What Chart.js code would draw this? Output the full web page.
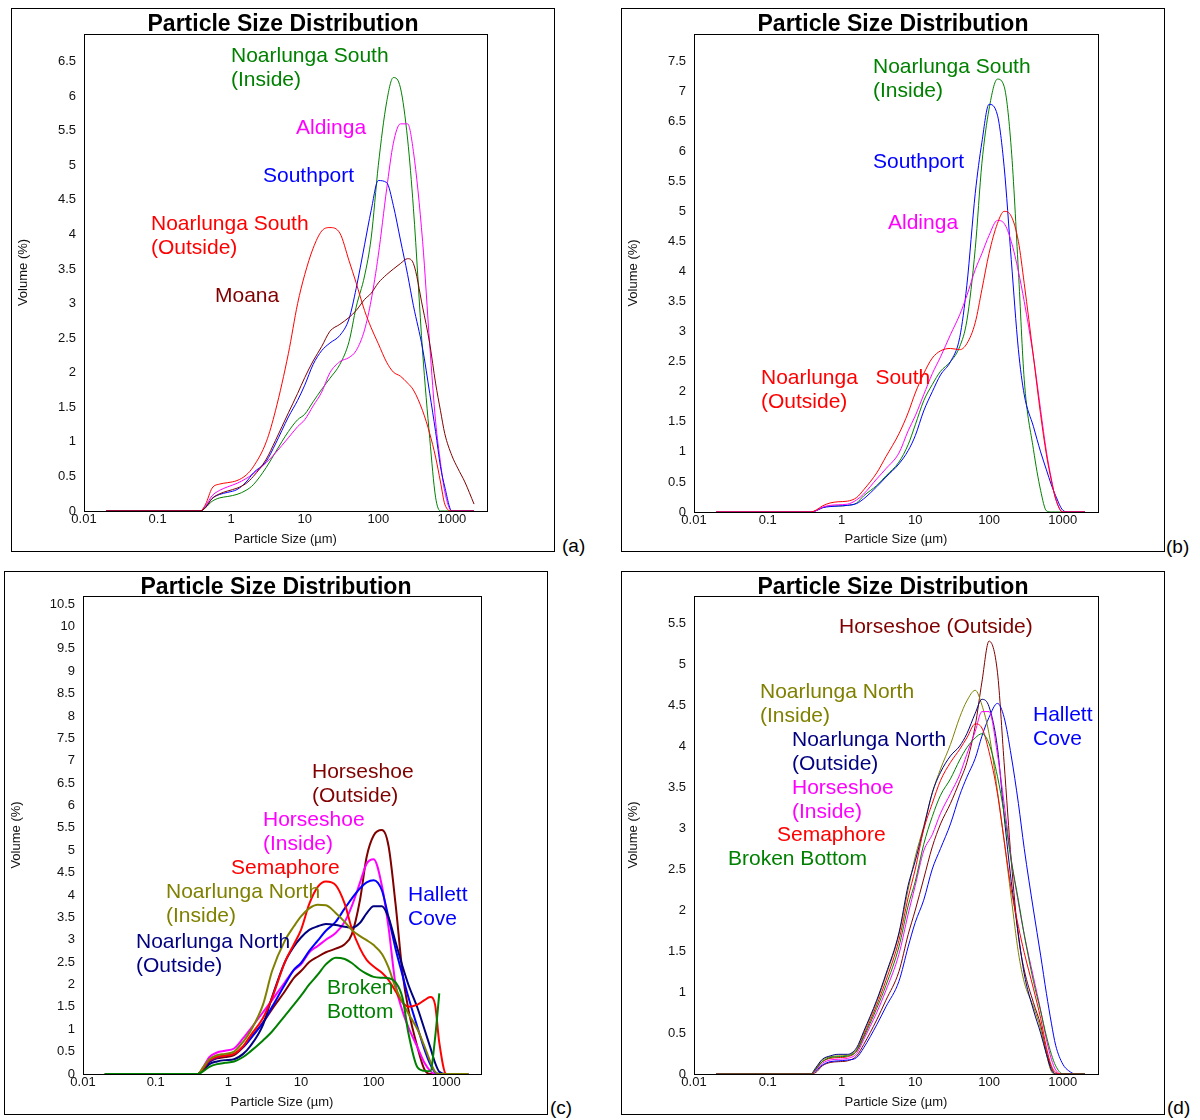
<!DOCTYPE html>
<html>
<head>
<meta charset="utf-8">
<script src="https://cdn.jsdelivr.net/npm/chart.js@4.4.1/dist/chart.umd.min.js"></script>
<style>
  body { margin: 0; background: #fff; width: 1200px; height: 1120px; position: relative; font-family: "Liberation Sans", Arial, sans-serif; }
  .panel { position: absolute; border: 1px solid #000; width: 542px; height: 542px; }
  .panel canvas { display: block; }
  .tag { position: absolute; font-size: 19px; line-height: 20px; color: #000; }
</style>
</head>
<body>
<div class="panel" style="left:11px;top:8px"><canvas id="chartA" width="542" height="542"></canvas></div>
<div class="panel" style="left:621px;top:8px"><canvas id="chartB" width="542" height="542"></canvas></div>
<div class="panel" style="left:4px;top:571px"><canvas id="chartC" width="542" height="542"></canvas></div>
<div class="panel" style="left:621px;top:571px"><canvas id="chartD" width="542" height="542"></canvas></div>
<div class="tag" style="left:562px;top:536px">(a)</div>
<div class="tag" style="left:1166px;top:537px">(b)</div>
<div class="tag" style="left:550px;top:1098px">(c)</div>
<div class="tag" style="left:1167px;top:1098px">(d)</div>
<script>
// particle sizes (µm) where the curves were read
const sizes = [0.02, 0.38, 0.45, 0.55, 0.7, 0.9, 1.2, 1.6, 2, 3, 4, 6, 8, 10, 13, 17, 22, 30, 40, 50,
  65, 80, 100, 130, 160, 200, 250, 300, 400, 500, 600, 700, 800, 1000, 1200, 1500, 2000];
const xTickValues = [0.01, 0.1, 1, 10, 100, 1000];
const yTicksA = [0, 0.5, 1, 1.5, 2, 2.5, 3, 3.5, 4, 4.5, 5, 5.5, 6, 6.5];
const yTicksB = [0, 0.5, 1, 1.5, 2, 2.5, 3, 3.5, 4, 4.5, 5, 5.5, 6, 6.5, 7, 7.5];
const yTicksC = [0, 0.5, 1, 1.5, 2, 2.5, 3, 3.5, 4, 4.5, 5, 5.5, 6, 6.5, 7, 7.5, 8, 8.5, 9, 9.5, 10, 10.5];
const yTicksD = [0, 0.5, 1, 1.5, 2, 2.5, 3, 3.5, 4, 4.5, 5, 5.5];

// (a)
const aNoarlungaSouthInside = [0,0,0.05,0.14,0.19,0.21,0.24,0.3,0.38,0.63,0.85,1.15,1.32,1.4,1.58,1.76,1.92,2.12,2.45,2.95,3.4,3.95,5.0,5.92,6.27,6.12,5.38,4.38,2.3,1.05,0.2,0,0,0,0,0,0];
const aAldinga = [0,0,0.08,0.22,0.3,0.35,0.4,0.47,0.54,0.7,0.84,1.06,1.22,1.32,1.52,1.72,2.0,2.16,2.22,2.32,2.62,3.05,3.7,4.66,5.32,5.6,5.6,5.2,3.9,2.4,1.3,0.7,0.28,0,0,0,0];
const aSouthport = [0,0,0.06,0.18,0.24,0.27,0.31,0.42,0.55,0.72,0.97,1.36,1.6,1.82,2.12,2.32,2.43,2.54,2.78,3.22,3.85,4.35,4.78,4.75,4.42,3.92,3.42,2.97,2.35,1.7,1.15,0.64,0.35,0,0,0,0];
const aNoarlungaSouthOutside = [0,0,0.1,0.33,0.39,0.41,0.44,0.52,0.64,1.0,1.45,2.28,3.0,3.42,3.8,4.05,4.1,4.02,3.62,3.3,2.9,2.65,2.42,2.15,2.01,1.95,1.85,1.75,1.45,1.12,0.78,0.42,0.1,0,0,0,0];
const aMoana = [0,0,0.05,0.18,0.25,0.29,0.33,0.4,0.5,0.75,1.02,1.42,1.7,1.93,2.17,2.38,2.6,2.7,2.8,2.9,3.06,3.15,3.3,3.42,3.5,3.58,3.65,3.58,2.95,2.42,1.85,1.45,1.12,0.8,0.62,0.42,0.1];

// (b)
const bNoarlungaSouthInside = [0,0,0.02,0.07,0.1,0.1,0.11,0.15,0.27,0.44,0.6,0.83,1.12,1.45,1.85,2.12,2.34,2.5,2.75,3.18,4.38,5.8,6.7,7.2,7.08,6.05,4.01,2.2,1.04,0.36,0.02,0,0,0,0,0,0];
const bSouthport = [0,0,0.02,0.07,0.09,0.1,0.11,0.14,0.22,0.42,0.58,0.8,1.02,1.27,1.68,2.0,2.28,2.5,2.9,3.77,5.3,6.15,6.78,6.6,5.75,4.2,2.7,1.95,1.42,1.0,0.7,0.45,0.27,0.03,0,0,0];
const bAldinga = [0,0,0.02,0.08,0.11,0.12,0.13,0.2,0.3,0.55,0.72,0.98,1.35,1.6,1.95,2.3,2.58,2.95,3.28,3.6,4.03,4.3,4.6,4.85,4.8,4.5,4.0,3.5,2.58,1.7,1.0,0.55,0.22,0,0,0,0];
const bNoarlungaSouthOutside = [0,0,0.03,0.1,0.15,0.17,0.18,0.24,0.37,0.65,0.92,1.3,1.65,1.98,2.3,2.56,2.68,2.72,2.7,2.8,3.15,3.7,4.3,4.8,5.0,4.92,4.5,3.8,2.58,1.62,0.95,0.52,0.22,0,0,0,0];

// (c)
const cHorseshoeOutside = [0,0,0.1,0.27,0.35,0.38,0.42,0.6,0.8,1.15,1.45,1.85,2.15,2.3,2.5,2.62,2.72,2.8,2.9,3.12,3.9,4.85,5.33,5.45,5.1,3.8,2.25,1.45,0.6,0.1,0,0,0,0,0,0,0];
const cHorseshoeInside = [0,0,0.15,0.38,0.48,0.52,0.57,0.8,1.0,1.38,1.65,2.05,2.32,2.45,2.72,2.86,3.0,3.15,3.4,3.75,4.28,4.7,4.8,4.2,3.28,2.0,1.4,1.05,0.6,0.25,0.07,0,0,0,0,0,0];
const cSemaphore = [0,0,0.12,0.3,0.38,0.41,0.45,0.62,0.85,1.25,1.7,2.5,2.9,3.22,3.8,4.18,4.3,4.22,3.8,3.25,2.8,2.55,2.4,2.26,2.1,1.85,1.6,1.5,1.55,1.65,1.72,1.55,0.7,0,0,0,0];
const cNoarlungaNorthInside = [0,0,0.15,0.33,0.42,0.45,0.5,0.72,0.95,1.55,2.3,2.98,3.3,3.52,3.7,3.78,3.77,3.6,3.4,3.22,3.08,2.99,2.88,2.68,2.38,1.93,1.6,1.35,1.0,0.62,0.28,0.05,0,0,0,0,0];
const cNoarlungaNorthOutside = [0,0,0.08,0.22,0.28,0.31,0.33,0.45,0.62,1.1,1.72,2.5,2.85,3.05,3.22,3.3,3.35,3.33,3.29,3.27,3.38,3.59,3.75,3.75,3.5,2.95,2.4,2.0,1.48,1.0,0.6,0.25,0.05,0,0,0,0];
const cHallettCove = [0,0,0.1,0.28,0.37,0.41,0.45,0.6,0.78,1.15,1.5,2.0,2.33,2.48,2.75,2.98,3.2,3.4,3.7,3.92,4.15,4.28,4.33,4.1,3.5,2.8,2.2,1.72,1.05,0.55,0.22,0.04,0,0,0,0,0];
const cBrokenBottom = [0,0,0.06,0.16,0.22,0.25,0.28,0.38,0.5,0.75,0.95,1.3,1.55,1.75,2.0,2.22,2.45,2.6,2.57,2.48,2.33,2.24,2.17,2.15,2.14,2.05,1.7,0.92,0.15,0.07,0.06,0.8,1.8,null,null,null,null];

// (d)
const dHorseshoeOutside = [0,0,0.02,0.1,0.14,0.15,0.16,0.22,0.36,0.66,0.9,1.25,1.7,2.0,2.38,2.77,3.05,3.3,3.57,3.8,4.25,4.78,5.28,4.9,3.8,2.6,1.68,1.27,0.87,0.6,0.27,0.08,0,0,0,0,0];
const dNoarlungaNorthInside = [0,0,0.07,0.17,0.21,0.22,0.23,0.3,0.5,0.88,1.2,1.7,2.25,2.65,3.02,3.43,3.72,4.02,4.35,4.55,4.68,4.5,4.15,3.45,2.85,2.15,1.48,1.12,0.82,0.55,0.24,0.03,0,0,0,0,0];
const dNoarlungaNorthOutside = [0,0,0.08,0.18,0.22,0.24,0.24,0.32,0.52,0.9,1.22,1.72,2.3,2.6,3.0,3.43,3.68,3.88,4.0,4.15,4.4,4.57,4.48,3.98,3.15,2.35,1.7,1.22,0.78,0.5,0.24,0.05,0,0,0,0,0];
const dHorseshoeInside = [0,0,0.05,0.13,0.17,0.18,0.19,0.25,0.42,0.75,1.02,1.46,1.95,2.3,2.72,2.92,3.18,3.42,3.65,3.9,4.18,4.42,4.42,3.9,3.3,2.62,2.09,1.7,1.18,0.78,0.42,0.18,0.05,0,0,0,0];
const dSemaphore = [0,0,0.06,0.15,0.19,0.2,0.21,0.28,0.47,0.84,1.14,1.63,2.15,2.5,2.98,3.3,3.58,3.8,3.96,4.1,4.27,4.22,3.93,3.42,2.85,2.25,1.8,1.48,1.04,0.68,0.32,0.1,0.02,0,0,0,0];
const dBrokenBottom = [0,0,0.06,0.15,0.2,0.21,0.22,0.28,0.45,0.8,1.08,1.55,2.05,2.35,2.8,3.14,3.4,3.6,3.83,3.98,4.1,4.15,4.03,3.63,3.18,2.6,2.12,1.7,1.13,0.77,0.46,0.24,0.1,0,0,0,0];
const dHallettCove = [0,0,0.04,0.11,0.15,0.16,0.17,0.2,0.32,0.6,0.82,1.13,1.55,1.85,2.12,2.5,2.75,3.05,3.4,3.62,3.85,4.12,4.35,4.52,4.35,3.88,3.3,2.75,2.0,1.45,0.98,0.62,0.35,0.12,0.04,0,0];

const chartTitle = 'Particle Size Distribution';
const xTitle = 'Particle Size (µm)';
const yTitle = 'Volume (%)';

const FONT = '"Liberation Sans", Arial, sans-serif';
const GREEN = '#008000', MAGENTA = '#ff00ff', BLUE = '#0000ff', RED = '#ff0000',
      MAROON = '#800000', OLIVE = '#808000', NAVY = '#000080';
const SIZE = 542;

Chart.defaults.font.family = FONT;

const panels = [
  { id: 'chartA', yMax: 6.9, yTicks: yTicksA, lineWidth: 1,
    area: { left: 72, top: 25, right: 475, bottom: 502 },
    series: [
      { values: aMoana, color: MAROON, note: ['Moana'], at: [203, 293] },
      { values: aNoarlungaSouthOutside, color: RED, note: ['Noarlunga South', '(Outside)'], at: [139, 221] },
      { values: aSouthport, color: BLUE, note: ['Southport'], at: [251, 173] },
      { values: aAldinga, color: MAGENTA, note: ['Aldinga'], at: [284, 125] },
      { values: aNoarlungaSouthInside, color: GREEN, note: ['Noarlunga South', '(Inside)'], at: [219, 53] }
    ] },
  { id: 'chartB', yMax: 7.95, yTicks: yTicksB, lineWidth: 1,
    area: { left: 72, top: 25, right: 476, bottom: 503 },
    series: [
      { values: bNoarlungaSouthOutside, color: RED, note: ['Noarlunga   South', '(Outside)'], at: [139, 375] },
      { values: bAldinga, color: MAGENTA, note: ['Aldinga'], at: [266, 220] },
      { values: bSouthport, color: BLUE, note: ['Southport'], at: [251, 159] },
      { values: bNoarlungaSouthInside, color: GREEN, note: ['Noarlunga South', '(Inside)'], at: [251, 64] }
    ] },
  { id: 'chartC', yMax: 10.68, yTicks: yTicksC, lineWidth: 2,
    area: { left: 78, top: 24, right: 476, bottom: 502 },
    series: [
      { values: cBrokenBottom, color: GREEN, note: ['Broken', 'Bottom'], at: [322, 422] },
      { values: cNoarlungaNorthInside, color: OLIVE, note: ['Noarlunga North', '(Inside)'], at: [161, 326] },
      { values: cSemaphore, color: RED, note: ['Semaphore'], at: [226, 302] },
      { values: cNoarlungaNorthOutside, color: NAVY, note: ['Noarlunga North', '(Outside)'], at: [131, 376] },
      { values: cHallettCove, color: BLUE, note: ['Hallett', 'Cove'], at: [403, 329] },
      { values: cHorseshoeInside, color: MAGENTA, note: ['Horseshoe', '(Inside)'], at: [258, 254] },
      { values: cHorseshoeOutside, color: MAROON, note: ['Horseshoe', '(Outside)'], at: [307, 206] }
    ] },
  { id: 'chartD', yMax: 5.83, yTicks: yTicksD, lineWidth: 1,
    area: { left: 72, top: 24, right: 476, bottom: 502 },
    series: [
      { values: dBrokenBottom, color: GREEN, note: ['Broken Bottom'], at: [106, 293] },
      { values: dSemaphore, color: RED, note: ['Semaphore'], at: [155, 269] },
      { values: dHorseshoeInside, color: MAGENTA, note: ['Horseshoe', '(Inside)'], at: [170, 222] },
      { values: dNoarlungaNorthOutside, color: NAVY, note: ['Noarlunga North', '(Outside)'], at: [170, 174] },
      { values: dNoarlungaNorthInside, color: OLIVE, note: ['Noarlunga North', '(Inside)'], at: [138, 126] },
      { values: dHallettCove, color: BLUE, note: ['Hallett', 'Cove'], at: [411, 149] },
      { values: dHorseshoeOutside, color: MAROON, note: ['Horseshoe (Outside)'], at: [217, 61] }
    ] }
];

// frame round the plot, the title and the coloured site names
function decor(cfg) {
  return {
    id: 'decor',
    afterDraw(chart) {
      const ctx = chart.ctx, a = chart.chartArea;
      ctx.save();
      ctx.strokeStyle = '#000';
      ctx.lineWidth = 1;
      ctx.strokeRect(Math.round(a.left) + 0.5, Math.round(a.top) + 0.5,
        Math.round(a.right - a.left), Math.round(a.bottom - a.top));
      ctx.fillStyle = '#000';
      ctx.textAlign = 'center';
      ctx.textBaseline = 'alphabetic';
      ctx.font = 'bold 23px ' + FONT;
      ctx.fillText(chartTitle, chart.width / 2, 22);
      ctx.textAlign = 'left';
      ctx.font = '21px ' + FONT;
      cfg.series.forEach(s => {
        ctx.fillStyle = s.color;
        s.note.forEach((line, i) => ctx.fillText(line, s.at[0], s.at[1] + i * 24));
      });
      ctx.restore();
    }
  };
}

panels.forEach(cfg => {
  new Chart(document.getElementById(cfg.id), {
    type: 'line',
    data: {
      datasets: cfg.series.map(s => ({
        label: s.note.join(' '),
        data: sizes.map((x, i) => ({ x: x, y: s.values[i] })),
        borderColor: s.color,
        borderWidth: cfg.lineWidth,
        pointRadius: 0,
        fill: false,
        cubicInterpolationMode: 'monotone'
      }))
    },
    options: {
      responsive: false,
      animation: false,
      devicePixelRatio: 1,
      layout: {
        padding: { left: 0, top: cfg.area.top, right: SIZE - cfg.area.right, bottom: 0 }
      },
      plugins: {
        legend: { display: false },
        tooltip: { enabled: false },
        title: { display: false }
      },
      scales: {
        x: {
          type: 'logarithmic',
          min: 0.01,
          max: 3000,
          grid: { display: false, drawTicks: false },
          border: { display: false },
          afterBuildTicks: scale => { scale.ticks = xTickValues.map(v => ({ value: v })); },
          afterFit: scale => { scale.height = SIZE - cfg.area.bottom; },
          ticks: {
            color: '#111',
            font: { size: 13 },
            padding: 1,
            maxRotation: 0,
            autoSkip: false,
            callback: v => String(v)
          },
          title: {
            display: true,
            text: xTitle,
            color: '#111',
            font: { size: 13 },
            padding: { top: 0, bottom: 4 }
          }
        },
        y: {
          min: 0,
          max: cfg.yMax,
          grid: { display: false, drawTicks: false },
          border: { display: false },
          afterBuildTicks: scale => { scale.ticks = cfg.yTicks.map(v => ({ value: v })); },
          afterFit: scale => { scale.width = cfg.area.left; },
          ticks: {
            color: '#111',
            font: { size: 13 },
            padding: 8,
            autoSkip: false,
            callback: v => String(v)
          },
          title: {
            display: true,
            text: yTitle,
            color: '#111',
            font: { size: 13 },
            padding: { top: 4, bottom: 0 }
          }
        }
      }
    },
    plugins: [decor(cfg)]
  });
});
</script>
</body>
</html>
